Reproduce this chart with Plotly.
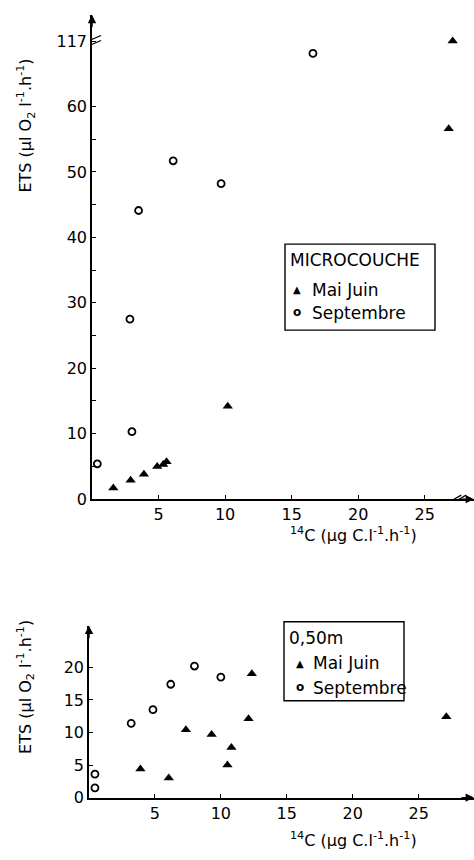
import plotly.graph_objects as go

# ---- Top panel: MICROCOUCHE ----
top_mj_x = [1.6, 2.9, 3.9, 4.9, 5.35, 5.6, 10.2, 26.8, 27.1]
top_mj_y = [1.7, 2.9, 3.8, 5.0, 5.3, 5.7, 14.2, 56.6, 117]
top_sep_x = [0.4, 2.85, 3.0, 3.5, 6.1, 9.7, 16.6]
top_sep_y = [5.4, 27.5, 10.3, 44.1, 51.7, 48.2, 68.1]

# ---- Bottom panel: 0,50 m ----
bot_mj_x = [3.9, 6.05, 7.35, 9.3, 10.5, 10.8, 12.1, 12.35, 27.1]
bot_mj_y = [4.4, 3.0, 10.4, 9.7, 5.0, 7.7, 12.1, 19.0, 12.4]
bot_sep_x = [0.45, 0.45, 3.2, 4.85, 6.2, 8.0, 10.0]
bot_sep_y = [3.6, 1.5, 11.4, 13.5, 17.4, 20.2, 18.5]

top_yticks = [0, 5, 10, 15, 20, 25, 30, 35, 40, 45, 50, 55, 60, 70]
top_yticktext = ["0", "", "10", "", "20", "", "30", "", "40", "", "50", "", "60", "117"]
xticks = [5, 10, 15, 20, 25]
bot_yticks = [0, 5, 10, 15, 20]

series_names = ["Mai Juin", "Septembre"]
legend_titles = ["MICROCOUCHE", "0,50m"]

Y_BREAK = 70  # axis position where the broken y-axis shows "117"

def brk(v):
    return [Y_BREAK if t > Y_BREAK else t for t in v]

W, H = 474, 860
FONT = "DejaVu Sans"

tri = dict(symbol="triangle-up", size=9, color="black")
circ = dict(symbol="circle-open", size=7, color="black", line=dict(width=1.8, color="black"))

fig = go.Figure()
fig.add_trace(go.Scatter(x=top_mj_x, y=brk(top_mj_y), mode="markers", marker=tri,
                         name=series_names[0], xaxis="x", yaxis="y"))
fig.add_trace(go.Scatter(x=top_sep_x, y=brk(top_sep_y), mode="markers", marker=circ,
                         name=series_names[1], xaxis="x", yaxis="y"))
fig.add_trace(go.Scatter(x=bot_mj_x, y=bot_mj_y, mode="markers", marker=tri,
                         name=series_names[0], xaxis="x2", yaxis="y2"))
fig.add_trace(go.Scatter(x=bot_sep_x, y=bot_sep_y, mode="markers", marker=circ,
                         name=series_names[1], xaxis="x2", yaxis="y2"))

def px_x(p):
    return p / W

def px_y(p):
    return (H - p) / H

axis_common = dict(showline=True, linecolor="black", linewidth=1.6, showgrid=False,
                   zeroline=False, ticks="inside", ticklen=4, tickcolor="black",
                   tickwidth=1.3, tickfont=dict(family=FONT, size=16, color="black"))

fig.update_layout(
    width=W, height=H, margin=dict(l=0, r=0, t=0, b=0),
    paper_bgcolor="white", plot_bgcolor="white",
    font=dict(family=FONT, color="black"),
    showlegend=False,
    xaxis=dict(domain=[px_x(92), px_x(474)], range=[0, 28.7], anchor="y",
               tickvals=xticks, **axis_common),
    yaxis=dict(domain=[px_y(505), px_y(15)], range=[0, 74], anchor="x",
               tickvals=top_yticks, ticktext=top_yticktext, **axis_common),
    xaxis2=dict(domain=[px_x(89), px_x(474)], range=[0, 29.2], anchor="y2",
                tickvals=xticks, **axis_common),
    yaxis2=dict(domain=[px_y(807), px_y(633)], range=[0, 26.4], anchor="x2",
                tickvals=bot_yticks, **axis_common),
)

ylab = "ETS (µl O<sub>2</sub> l<sup>-1</sup>.h<sup>-1</sup>)"
xlab = "<sup>14</sup>C (µg C.l<sup>-1</sup>.h<sup>-1</sup>)"

def txt(text, x, y, size=16, xa="center", angle=0):
    return dict(text=text, x=px_x(x), y=px_y(y), xref="paper", yref="paper",
                xanchor=xa, yanchor="middle", textangle=angle, showarrow=False,
                font=dict(family=FONT, size=size, color="black"))

ann = [
    txt(ylab, 26, 127, 16, angle=-90),
    txt(ylab, 26, 695, 16, angle=-90),
    txt(xlab, 353, 541, 16),
    txt(xlab, 353, 849, 16),
]

# legends drawn as boxed text (two separate legends, one per panel)
TRI_G = "<span style='font-size:10px'>▲</span>"
CIR_G = "<span style='font-size:12px'><b>o</b></span>"
legend_specs = [
    # box left, top, right, bottom, title y, item1 y, item2 y, glyph x, text x
    (285, 247, 435, 334, 263, 293, 317, 297, 310, legend_titles[0]),
    (284, 629, 404, 709, 646, 671, 696, 300, 311, legend_titles[1]),
]
shapes = []
for (l, t, r, b, ty, y1, y2, gx, tx, title) in legend_specs:
    shapes.append(dict(type="rect", xref="paper", yref="paper",
                       x0=px_x(l), x1=px_x(r), y0=px_y(b), y1=px_y(t),
                       line=dict(color="black", width=1.4), fillcolor="white", layer="below"))
    ann.append(txt(title, l + 3, ty, 17, xa="left"))
    ann.append(txt(TRI_G, gx, y1, 16))
    ann.append(txt(series_names[0], tx, y1, 17, xa="left"))
    ann.append(txt(CIR_G, gx, y2 - 1, 16))
    ann.append(txt(series_names[1], tx, y2, 17, xa="left"))

# axis arrows
for xr, yr, xe, ye in [("x", "y", 0, 74), ("x2", "y2", 0, 26.4)]:
    ann.append(dict(x=xe, y=ye, xref=xr, yref=yr, text="", showarrow=True,
                    ax=0, ay=14, arrowhead=2, arrowsize=1.2, arrowwidth=1.4,
                    arrowcolor="black"))
for xr, yr, xe in [("x", "y", 28.7), ("x2", "y2", 29.2)]:
    ann.append(dict(x=xe, y=0, xref=xr, yref=yr, text="", showarrow=True,
                    ax=-14, ay=0, arrowhead=2, arrowsize=1.2, arrowwidth=1.4,
                    arrowcolor="black"))
fig.update_layout(annotations=ann)

# axis break marks
for off in (-2.5, 2.5):
    shapes.append(dict(type="line", xref="x", yref="y", xsizemode="pixel", ysizemode="pixel",
                       xanchor=0, yanchor=Y_BREAK, x0=-7, x1=9, y0=-4 + off, y1=3 + off,
                       line=dict(color="black", width=1.2)))
    shapes.append(dict(type="line", xref="x", yref="y", xsizemode="pixel", ysizemode="pixel",
                       xanchor=27.4, yanchor=0, x0=-7 + off, x1=7 + off, y0=-4, y1=4,
                       line=dict(color="black", width=1.2)))
fig.update_layout(shapes=shapes)

post = (
    "var s=document.documentElement.style;s.margin='0';s.padding='0';s.overflow='hidden';"
    "var b=document.body.style;b.margin='0';b.padding='0';b.overflow='hidden';"
)
fig.write_html("out.html", config={"displayModeBar": False}, post_script=post)
